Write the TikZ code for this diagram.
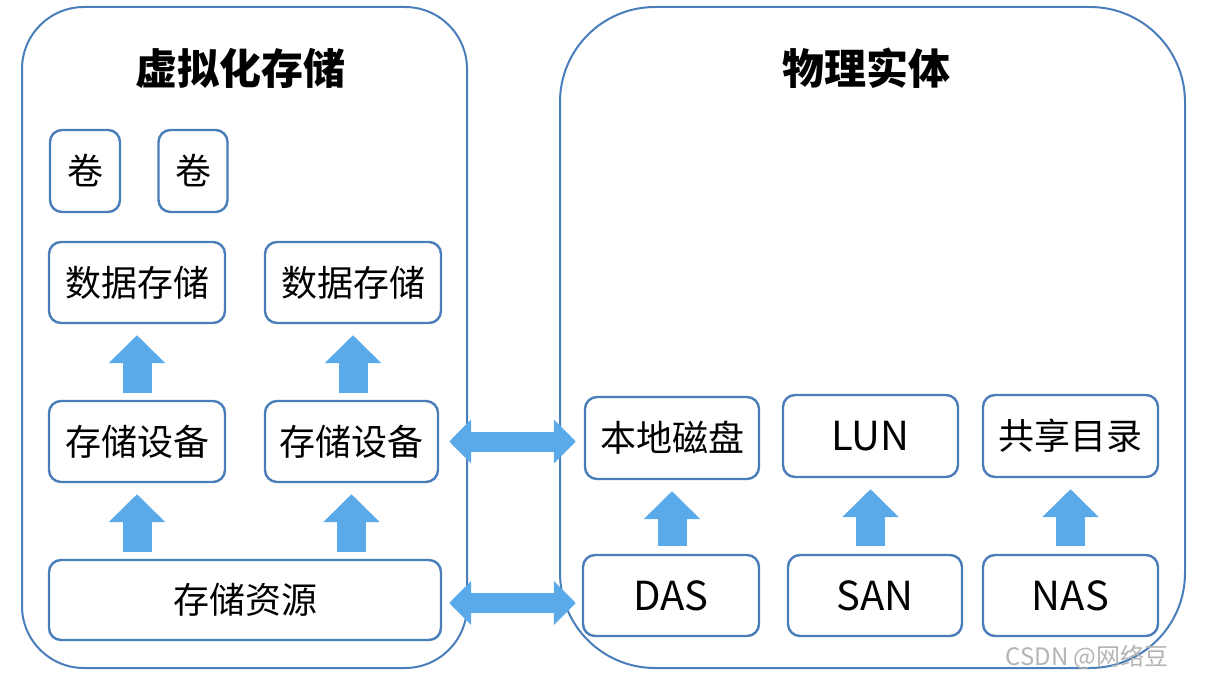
\documentclass[tikz,border=0pt]{standalone}
\usepackage{fontspec}
\setmainfont{Noto Sans CJK SC}
\usetikzlibrary{arrows.meta}
\definecolor{bord}{HTML}{4A7EBB}
\definecolor{arr}{HTML}{5AAAEA}
\definecolor{wm}{HTML}{B4B4B4}
\tikzset{
  container/.style={draw=bord, line width=2pt, rounded corners=#1},
  box/.style={draw=bord, line width=2.4pt, rounded corners=12pt, fill=white, inner sep=0pt, font=\fontsize{36}{40}\selectfont},
  lat/.style={font=\fontsize{40}{44}\selectfont},
  title/.style={font=\fontsize{42}{48}\selectfont\bfseries},
  uparrow/.style={line width=29pt, draw=arr, -{Triangle[width=55pt,length=28pt]}},
  dblarrow/.style={line width=20pt, draw=arr, {Triangle[width=43pt,length=22pt]}-{Triangle[width=43pt,length=22pt]}}
}
\begin{document}
\begin{tikzpicture}[x=1pt,y=-1pt]
\useasboundingbox (0,0) rectangle (1212,679);
% containers
\draw[container=62pt] (22,7) rectangle (467,668);
\draw[container=95pt] (560,7) rectangle (1185,668);
\node[title] (t1) at (240,68) {虚拟化存储};
\node[title] (t2) at (866,68) {物理实体};
% left boxes
\node[box, minimum width=70pt, minimum height=82pt] (j1) at (85,171) {卷};
\node[box, minimum width=69pt, minimum height=82pt] (j2) at (193,171) {卷};
\node[box, minimum width=176pt, minimum height=81pt] (ds1) at (137,282.5) {数据存储};
\node[box, minimum width=176pt, minimum height=81pt] (ds2) at (353,282.5) {数据存储};
\node[box, minimum width=176pt, minimum height=81pt] (sd1) at (137,441.5) {存储设备};
\node[box, minimum width=173pt, minimum height=81pt] (sd2) at (351.5,441.5) {存储设备};
\node[box, minimum width=392pt, minimum height=80pt] (zy) at (245,600) {存储资源};
% right boxes
\node[box, minimum width=174pt, minimum height=82pt] (bd) at (672,438) {本地磁盘};
\node[box, lat, minimum width=175pt, minimum height=82pt] (lun) at (870.5,436) {LUN};
\node[box, minimum width=175pt, minimum height=82pt] (gx) at (1070.5,436) {共享目录};
\node[box, lat, minimum width=176pt, minimum height=81pt] (das) at (671,595.5) {DAS};
\node[box, lat, minimum width=174pt, minimum height=81pt] (san) at (875,595.5) {SAN};
\node[box, lat, minimum width=175pt, minimum height=81pt] (nas) at (1070.5,595.5) {NAS};
% up arrows left
\draw[uparrow, shorten <=7pt, shorten >=11pt] (sd1.north) -- (ds1.south);
\draw[uparrow, shorten <=7pt, shorten >=11pt] (sd2.north -| ds2.south) -- (ds2.south);
\draw[uparrow, shorten <=7pt, shorten >=11pt] (zy.north -| sd1.south) -- (sd1.south);
\draw[uparrow, shorten <=7pt, shorten >=11pt] (zy.north -| sd2.south) -- (sd2.south);
% up arrows right
\draw[uparrow, shorten <=8pt, shorten >=11pt] (das.north -| bd.south) -- (bd.south);
\draw[uparrow, shorten <=8pt, shorten >=11pt] (san.north -| lun.south) -- (lun.south);
\draw[uparrow, shorten <=8pt, shorten >=11pt] (nas.north -| gx.south) -- (gx.south);
% double arrows
\draw[dblarrow, shorten <=10pt, shorten >=8pt] (sd2.east) -- (sd2.east -| bd.west);
\draw[dblarrow, shorten <=7pt, shorten >=6pt] ([yshift=-3pt]zy.east) -- ([yshift=-3pt]zy.east -| das.west);
% watermark
\node[text=wm, font=\fontsize{24}{28}\selectfont, anchor=east] (wmk) at (1172,657) {CSDN @网络豆};
\end{tikzpicture}
\end{document}
